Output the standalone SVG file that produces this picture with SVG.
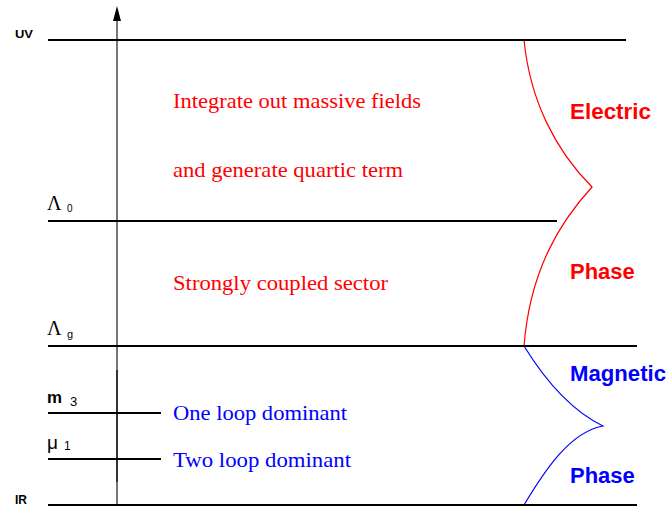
<svg xmlns="http://www.w3.org/2000/svg" width="670" height="508" viewBox="0 0 670 508">
<style>
.lvl{stroke:#000;stroke-width:2;fill:none}
.ser{font-family:"Liberation Serif",serif;font-size:21px}
.bold{font-family:"Liberation Sans",Arial,sans-serif;font-weight:bold;font-size:22px}
.sm{font-family:"Liberation Sans",Arial,sans-serif;font-size:11px}
.red{fill:#f00}
.blue{fill:#00f}
</style>
<rect width="670" height="508" fill="#fff"/>
<g id="connectors">
<line x1="117" y1="505" x2="117" y2="18" stroke="#777" stroke-width="2"/>
<line x1="117" y1="370" x2="117" y2="482" stroke="#333" stroke-width="2"/>
<polygon points="117,6 113,21 121,21" fill="#000"/>
<path d="M524,40 C530,100 555,150 592,187 C560,222 530,270 524,346" stroke="#f00" stroke-width="1.2" fill="none"/>
<path d="M524,346 C545,380 570,410 603,426 C570,432 545,470 524,505" stroke="#00f" stroke-width="1.2" fill="none"/>
</g>
<g id="uv"><line class="lvl" x1="48" y1="40" x2="626" y2="40"/><text x="15" y="38" class="sm" font-weight="bold" textLength="18" lengthAdjust="spacingAndGlyphs">UV</text></g>
<g id="lambda0"><line class="lvl" x1="48" y1="221" x2="557" y2="221"/><text x="47" y="210" font-family="Liberation Serif,serif" font-size="20">Λ</text><text x="67" y="212" font-family="Liberation Sans,sans-serif" font-size="10">0</text></g>
<g id="lambdag"><line class="lvl" x1="48" y1="346" x2="637" y2="346"/><text x="47" y="335" font-family="Liberation Serif,serif" font-size="20">Λ</text><text x="67" y="338" font-family="Liberation Sans,sans-serif" font-size="11">g</text></g>
<g id="m3"><line class="lvl" x1="48" y1="413" x2="161" y2="413"/><text x="47" y="403" font-family="Liberation Sans,sans-serif" font-size="17" font-weight="bold" textLength="15" lengthAdjust="spacingAndGlyphs">m</text><text x="70" y="406" font-family="Liberation Sans,sans-serif" font-size="13">3</text></g>
<g id="mu1"><line class="lvl" x1="48" y1="459" x2="161" y2="459"/><text x="47" y="449" font-family="Liberation Sans,sans-serif" font-size="19">μ</text><text x="64" y="450" font-family="Liberation Sans,sans-serif" font-size="12">1</text></g>
<g id="ir"><line class="lvl" x1="48" y1="505" x2="637" y2="505"/><text x="15" y="504" font-family="Liberation Sans,sans-serif" font-size="12" font-weight="bold" textLength="12" lengthAdjust="spacingAndGlyphs">IR</text></g>
<g id="texts">
<text x="173" y="108" class="ser red" textLength="248" lengthAdjust="spacingAndGlyphs">Integrate out massive fields</text>
<text x="173" y="177" class="ser red" textLength="230" lengthAdjust="spacingAndGlyphs">and generate quartic term</text>
<text x="173" y="290" class="ser red" textLength="215" lengthAdjust="spacingAndGlyphs">Strongly coupled sector</text>
<text x="173" y="420" class="ser blue" textLength="174" lengthAdjust="spacingAndGlyphs">One loop dominant</text>
<text x="173" y="467" class="ser blue" textLength="178" lengthAdjust="spacingAndGlyphs">Two loop dominant</text>
</g>
<g id="phases">
<text x="570" y="119" class="bold red" textLength="81" lengthAdjust="spacingAndGlyphs">Electric</text>
<text x="570" y="279" class="bold red">Phase</text>
<text x="570" y="381" class="bold blue" textLength="96" lengthAdjust="spacingAndGlyphs">Magnetic</text>
<text x="570" y="483" class="bold blue">Phase</text>
</g>
</svg>
